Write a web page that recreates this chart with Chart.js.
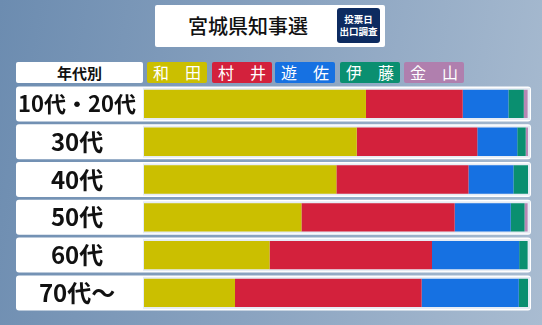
<!DOCTYPE html>
<html lang="ja">
<head>
<meta charset="utf-8">
<script src="https://cdn.jsdelivr.net/npm/chart.js@4"></script>
<style>
  html, body { margin: 0; padding: 0; }
  body {
    width: 542px; height: 325px; overflow: hidden; position: relative;
    background: linear-gradient(100deg, #6c8cb0 0%, #8aa3c0 50%, #a9bcd1 100%);
    font-family: "Noto Sans CJK JP", "Noto Sans", sans-serif;
  }
  #chart { position: absolute; left: 0; top: 0; }
  .title {
    position: absolute; left: 155px; top: 5px; width: 230px; height: 42px;
    background: #fff; border-radius: 2px;
  }
  .title .main {
    position: absolute; left: 33px; top: 6px; font-size: 20px; font-weight: 500;
    color: #111;
  }
  .title .badge {
    position: absolute; left: 182px; top: 3px; width: 43px; height: 35px;
    background: #0d2b60; border-radius: 3px; color: #fff; font-size: 9.5px;
    font-weight: 700; line-height: 12px; text-align: center; padding-top: 5px;
    box-sizing: border-box;
  }
  #legend { position: absolute; left: 0; top: 62px; height: 21px; }
  .lg {
    position: absolute; top: 0; height: 21px; border-radius: 2px;
    box-sizing: border-box; display: flex; align-items: center;
    font-size: 16px; line-height: 21px;
  }
</style>
</head>
<body>
<div class="title">
  <div class="main">宮城県知事選</div>
  <div class="badge">投票日<br>出口調査</div>
</div>
<div id="legend"></div>
<canvas id="chart" width="542" height="325"></canvas>
<script>
const ageGroups = ['10代・20代', '30代', '40代', '50代', '60代', '70代～'];
const candidates = ['和田', '村井', '遊佐', '伊藤', '金山'];
const wada     = [57.8, 55.4, 50.1, 41.0, 32.7, 23.7];
const murai    = [25.2, 31.4, 34.4, 39.9, 42.3, 48.6];
const yusa     = [11.9, 10.4, 11.7, 14.6, 22.7, 25.3];
const ito      = [ 4.0,  2.2,  3.8,  3.6,  2.2,  2.4];
const kanayama = [ 1.0,  0.6,  0.0,  0.8,  0.0,  0.0];
const colors = ['#cbbf00', '#d3213c', '#1671e2', '#0a8f70', '#b687b4'];
const series = [wada, murai, yusa, ito, kanayama];

// legend header + colored name boxes
const legend = document.getElementById('legend');
const head = document.createElement('div');
head.className = 'lg';
head.style.cssText = 'left:16px;width:127px;background:#fff;color:#111;font-weight:700;font-size:15px;justify-content:center;';
head.textContent = '年代別';
legend.appendChild(head);
const boxLeft = [147, 212, 275, 340, 404];
candidates.forEach((name, i) => {
  const d = document.createElement('div');
  d.className = 'lg';
  d.style.left = boxLeft[i] + 'px';
  d.style.width = '60px';
  d.style.background = i === 4 ? '#b07fae' : colors[i];
  d.style.color = '#fff';
  d.style.justifyContent = 'space-between';
  d.style.padding = '0 6px';
  name.split('').forEach(ch => {
    const s = document.createElement('span');
    s.textContent = ch;
    d.appendChild(s);
  });
  legend.appendChild(d);
});

// white row panels behind each bar (drawn before the axis labels)
const rowPanels = {
  id: 'rowPanels',
  beforeDraw(chart) {
    const ctx = chart.ctx;
    const y = chart.scales.y;
    const area = chart.chartArea;
    ctx.save();
    ageGroups.forEach((g, i) => {
      const cy = y.getPixelForValue(i);
      ctx.fillStyle = '#ffffff';
      ctx.beginPath();
      ctx.roundRect(16, cy - 17.5, 515, 35, 3);
      ctx.fill();
      ctx.fillStyle = '#e6ecf4';
      ctx.fillRect(area.left - 1, cy - 16, area.right - area.left + 3, 32);
    });
    ctx.restore();
  }
};

new Chart(document.getElementById('chart').getContext('2d'), {
  type: 'bar',
  data: {
    labels: ageGroups,
    datasets: candidates.map((name, i) => ({
      label: name,
      data: series[i],
      backgroundColor: colors[i],
      borderWidth: 0,
      categoryPercentage: 0.75,
      barPercentage: 1
    }))
  },
  options: {
    indexAxis: 'y',
    responsive: false,
    animation: false,
    layout: { padding: { left: 16, right: 14, top: 85, bottom: 8 } },
    scales: {
      x: {
        stacked: true, min: 0, max: 100,
        display: false,
        grid: { display: false }
      },
      y: {
        stacked: true,
        grid: { display: false },
        border: { display: false },
        afterFit(scale) { scale.width = 128; },
        ticks: {
          crossAlign: 'center',
          padding: 0,
          color: '#111',
          font: c => ({ family: '"Noto Sans CJK JP"', size: c.index === 0 ? 22 : 24, weight: 'bold' })
        }
      }
    },
    plugins: {
      legend: { display: false },
      tooltip: { enabled: false }
    }
  },
  plugins: [rowPanels]
});
</script>
</body>
</html>
